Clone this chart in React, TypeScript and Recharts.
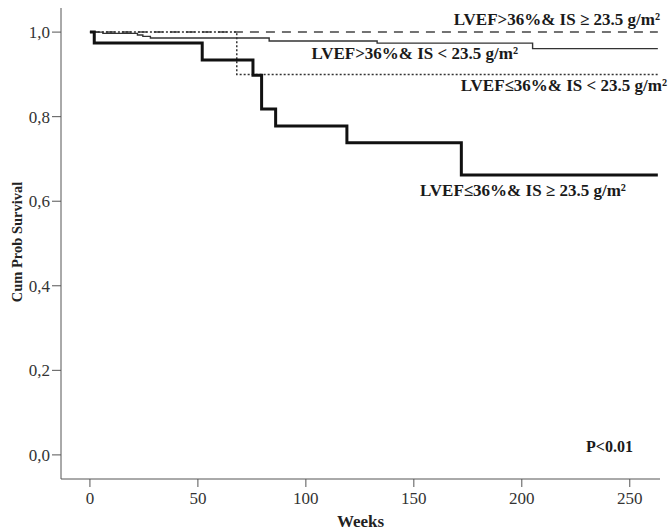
import { LineChart, Line, XAxis, YAxis } from 'recharts';

// Kaplan-Meier step curves, weeks vs cumulative survival
const highEfHighIsWeeks = [0, 263];
const highEfHighIsSurv = [1, 1];

const highEfLowIsWeeks = [0, 6, 22, 24.5, 28, 83, 133, 205, 263];
const highEfLowIsSurv = [1, 0.997, 0.993, 0.99, 0.986, 0.979, 0.974, 0.961, 0.961];

const lowEfLowIsWeeks = [0, 68, 263];
const lowEfLowIsSurv = [1, 0.9, 0.9];

const lowEfHighIsWeeks = [0, 2, 52, 75.5, 79.5, 86, 119, 172, 263];
const lowEfHighIsSurv = [1, 0.974, 0.934, 0.898, 0.818, 0.778, 0.738, 0.662, 0.662];

const xTicks = [0, 50, 100, 150, 200, 250];
const yTicks = [0, 0.2, 0.4, 0.6, 0.8, 1.0];

const toRows = (t: number[], s: number[]) => t.map((w, i) => ({ t: w, s: s[i] }));

const FONT = '"Liberation Serif", "Times New Roman", serif';

const labelStyle: React.CSSProperties = {
  position: 'absolute',
  fontFamily: FONT,
  fontWeight: 700,
  fontSize: 17,
  color: '#1a1a1a',
  whiteSpace: 'nowrap',
  lineHeight: '20px',
};

export default function App() {
  const axisColor = '#555';
  const tickStyle = { fontFamily: FONT, fontSize: 17, fill: '#333' };

  return (
    <div style={{ position: 'absolute', left: 0, top: 0, width: 669, height: 532, background: '#fff' }}>
      <LineChart width={669} height={532} margin={{ top: 8, right: 9, bottom: 0, left: 0 }}>
        <XAxis
          type="number"
          dataKey="t"
          domain={[-13.4, 264]}
          ticks={xTicks}
          allowDataOverflow
          height={53}
          stroke={axisColor}
          tickSize={8}
          tick={tickStyle}
          tickMargin={5}
          label={{ value: 'Weeks', position: 'insideBottom', offset: 5, style: { fontFamily: FONT, fontWeight: 700, fontSize: 17, fill: '#222' } }}
        />
        <YAxis
          type="number"
          domain={[-0.057, 1.057]}
          ticks={yTicks}
          allowDataOverflow
          width={61}
          stroke={axisColor}
          tickSize={9}
          tickMargin={2}
          tick={tickStyle}
          tickFormatter={(v: number) => v.toFixed(1).replace('.', ',')}
          label={{
            content: () => (
              <text x={22} y={242} transform="rotate(-90 22 242)" textAnchor="middle" fontFamily={FONT} fontWeight={700} fontSize={14.5} fill="#222">
                Cum Prob Survival
              </text>
            ),
          }}
        />
        <Line data={toRows(highEfHighIsWeeks, highEfHighIsSurv)} dataKey="s" type="stepAfter" stroke="#444" strokeWidth={1.5} strokeDasharray="9 7" dot={false} isAnimationActive={false} />
        <Line data={toRows(highEfLowIsWeeks, highEfLowIsSurv)} dataKey="s" type="stepAfter" stroke="#333" strokeWidth={1.4} dot={false} isAnimationActive={false} />
        <Line data={toRows(lowEfLowIsWeeks, lowEfLowIsSurv)} dataKey="s" type="stepAfter" stroke="#333" strokeWidth={1.5} strokeDasharray="2 2" dot={false} isAnimationActive={false} />
        <Line data={toRows(lowEfHighIsWeeks, lowEfHighIsSurv)} dataKey="s" type="stepAfter" stroke="#111" strokeWidth={3} dot={false} isAnimationActive={false} />
      </LineChart>

      <div style={{ ...labelStyle, right: 9, top: 10 }}>LVEF&gt;36%&amp; IS ≥ 23.5 g/m²</div>
      <div style={{ ...labelStyle, right: 151, top: 44 }}>LVEF&gt;36%&amp; IS &lt; 23.5 g/m²</div>
      <div style={{ ...labelStyle, right: 2, top: 76 }}>LVEF≤36%&amp; IS &lt; 23.5 g/m²</div>
      <div style={{ ...labelStyle, left: 420, top: 181 }}>LVEF≤36%&amp; IS ≥ 23.5 g/m²</div>
      <div style={{ ...labelStyle, left: 586, top: 437, fontSize: 16 }}>P&lt;0.01</div>
    </div>
  );
}
